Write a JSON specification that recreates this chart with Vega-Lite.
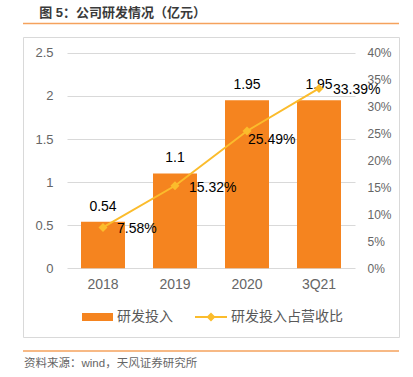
{
  "$schema": "https://vega.github.io/schema/vega-lite/v6.json",
  "width": 376,
  "height": 300,
  "autosize": {"type": "none"},
  "padding": {"left": 23, "top": 37, "right": 14, "bottom": 40},
  "background": "white",
  "config": {
    "view": {"stroke": "#D9D9D9", "strokeWidth": 1},
    "font": "Liberation Sans, Noto Sans CJK SC",
    "axis": {"labelFont": "Liberation Sans, Noto Sans CJK SC", "labelColor": "#666666"},
    "legend": {"labelFont": "Liberation Sans, Noto Sans CJK SC"},
    "text": {"font": "Liberation Sans, Noto Sans CJK SC"}
  },
  "title": {
    "text": "图 5：公司研发情况（亿元）",
    "anchor": "start",
    "fontSize": 13,
    "fontWeight": "bold",
    "color": "#3A3A3A",
    "font": "Liberation Sans, Noto Sans CJK SC",
    "offset": 3,
    "dx": 17
  },
  "datasets": {
    "rd": [
      {"period": "2018", "rd": 0.54, "ratio": 0.0758},
      {"period": "2019", "rd": 1.1, "ratio": 0.1532},
      {"period": "2020", "rd": 1.95, "ratio": 0.2549},
      {"period": "3Q21", "rd": 1.95, "ratio": 0.3339}
    ]
  },
  "layer": [
    {
      "layer": [
        {
          "data": {"name": "rd"},
          "mark": {"type": "bar"},
          "encoding": {
            "x": {
              "field": "period",
              "type": "nominal",
              "sort": null,
              "scale": {"type": "band", "range": [44, 332], "paddingInner": 0.389, "paddingOuter": 0.1945},
              "axis": {
                "title": null,
                "labelAngle": 0,
                "domain": false,
                "ticks": false,
                "offset": -68.7,
                "labelPadding": 9,
                "labelFontSize": 14
              }
            },
            "y": {
              "field": "rd",
              "type": "quantitative",
              "scale": {"domain": [0, 2.5], "range": [231.3, 15.8], "nice": false, "zero": true},
              "axis": {
                "title": null,
                "orient": "left",
                "values": [0, 0.5, 1, 1.5, 2, 2.5],
                "format": "~g",
                "domain": false,
                "ticks": false,
                "grid": true,
                "gridColor": "#D9D9D9",
                "gridWidth": 1,
                "offset": -44,
                "labelPadding": 14,
                "labelFontSize": 13
              }
            },
            "fill": {
              "datum": "研发投入",
              "scale": {"range": ["#F5841F"]},
              "legend": {
                "title": null,
                "orient": "none",
                "legendX": 59,
                "legendY": 264.5,
                "padding": 0,
                "symbolType": "M-1,-0.26H1V0.26H-1Z",
                "symbolSize": 961,
                "symbolStrokeWidth": 0,
                "labelOffset": 4,
                "labelFontSize": 14,
                "labelColor": "#595959"
              }
            }
          }
        },
        {
          "data": {"name": "rd"},
          "mark": {"type": "text", "baseline": "middle", "align": "center", "dy": -15, "fontSize": 14, "color": "#000000"},
          "encoding": {
            "x": {"field": "period", "type": "nominal", "sort": null},
            "y": {"field": "rd", "type": "quantitative"},
            "text": {"field": "rd", "type": "quantitative"}
          }
        },
        {
          "data": {"values": [{"line": "header"}]},
          "mark": {"type": "rule", "color": "#F5A25D", "strokeWidth": 1.5, "clip": false},
          "encoding": {"y": {"datum": 2.84, "type": "quantitative"}}
        },
        {
          "data": {"values": [{"line": "footer"}]},
          "mark": {"type": "rule", "color": "#F5A25D", "strokeWidth": 1.5, "clip": false},
          "encoding": {"y": {"datum": -0.959, "type": "quantitative"}}
        },
        {
          "data": {"values": [{"source": "资料来源：wind，天风证券研究所"}]},
          "mark": {"type": "text", "align": "left", "baseline": "middle", "fontSize": 11.5, "color": "#666666", "dx": -187},
          "encoding": {"text": {"field": "source"}, "y": {"datum": -1.11, "type": "quantitative"}}
        }
      ]
    },
    {
      "data": {"name": "rd"},
      "encoding": {
        "x": {"field": "period", "type": "nominal", "sort": null},
        "y": {
          "field": "ratio",
          "type": "quantitative",
          "scale": {"domain": [0, 0.4], "range": [231.3, 15.8], "nice": false},
          "axis": {
            "title": null,
            "orient": "right",
            "values": [0, 0.05, 0.1, 0.15, 0.2, 0.25, 0.3, 0.35, 0.4],
            "format": ".0%",
            "domain": false,
            "ticks": false,
            "grid": false,
            "offset": -44,
            "labelPadding": 12,
            "labelFontSize": 12
          }
        }
      },
      "layer": [
        {
          "mark": {
            "type": "line",
            "strokeWidth": 2,
            "point": {"shape": "diamond", "size": 80, "filled": true, "fill": "#FBBC2C", "strokeWidth": 0}
          },
          "encoding": {
            "stroke": {
              "datum": "研发投入占营收比",
              "scale": {"range": ["#FBBC2C"]},
              "legend": {
                "title": null,
                "orient": "none",
                "legendX": 172,
                "legendY": 264,
                "padding": 0,
                "symbolType": "M-1,-0.06H1V0.06H-1Z M0,-0.28L0.28,0L0,0.28L-0.28,0Z",
                "symbolSize": 1024,
                "symbolFillColor": "#FBBC2C",
                "symbolStrokeWidth": 0,
                "labelOffset": 4,
                "labelFontSize": 14,
                "labelColor": "#595959",
                "encode": {"symbols": {"update": {"fill": {"value": "#FBBC2C"}, "strokeWidth": {"value": 0}}}}
              }
            }
          }
        },
        {
          "transform": [{"filter": "datum.period != '2020'"}],
          "mark": {"type": "text", "align": "left", "baseline": "middle", "dx": 14, "dy": 2, "fontSize": 14, "color": "#000000"},
          "encoding": {"text": {"field": "ratio", "type": "quantitative", "format": ".2%"}}
        },
        {
          "transform": [{"filter": "datum.period == '2020'"}],
          "mark": {"type": "text", "align": "left", "baseline": "middle", "dx": 1, "dy": 9, "fontSize": 14, "color": "#000000"},
          "encoding": {"text": {"field": "ratio", "type": "quantitative", "format": ".2%"}}
        }
      ]
    }
  ],
  "resolve": {"scale": {"y": "independent"}}
}
